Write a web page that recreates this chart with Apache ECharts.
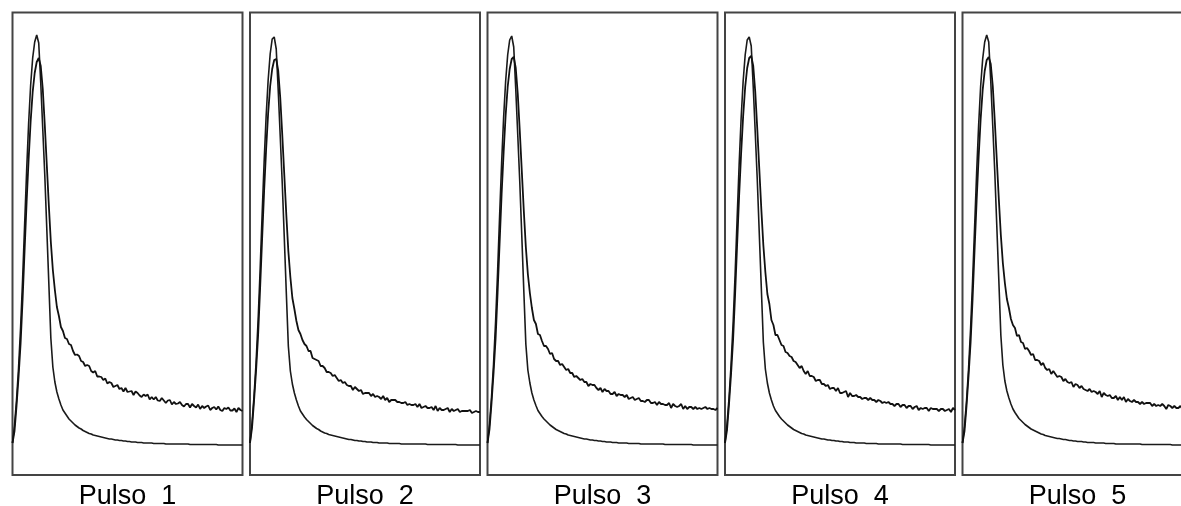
<!DOCTYPE html>
<html>
<head>
<meta charset="utf-8">
<script src="https://cdn.jsdelivr.net/npm/echarts@6/dist/echarts.min.js"></script>
<style>
  html, body { margin: 0; padding: 0; background: #fff; }
  #chart { width: 1181px; height: 506px; }
</style>
</head>
<body>
<div id="chart"></div>
<script>
// Sample times (ns) shared by every pulse record
const sampleTimes = [0,2,4,6,8,10,12,14,16,18,20,22,24,26,28,30,32,34,36,38,40,42,44,46,48,50,52,54,56,58,60,62,64,66,68,70,72,74,76,78,80,82,84,86,88,90,92,94,96,98,100,102,104,106,108,110,112,114,116,118,120,122,124,126,128,130,132,134,136,138,140,142,144,146,148,150,152,154,156,158,160,162,164,166,168,170,172,174,176,178,180,182,184,186,188,190,192,194,196,198,200,202,204,206,208,210,212,214,216,218,220,222,224,226,228];

const pulseLabels = ['Pulso  1', 'Pulso  2', 'Pulso  3', 'Pulso  4', 'Pulso  5'];

// Fast-decay (smooth) pulse, amplitude in arbitrary units
const fast1 = [0,18,43,75,115,163,218,272,320,358,385,401,408,400,360,314,268,214,160,105,76,61,51,44,38,33,30,27,24,22,20,18,16.5,15,14,12.5,11.5,10.5,9.5,9,8,7.5,7,6.5,6,5.5,5,4.5,4,4,3.5,3,3,2.5,2.5,2,2,1.5,1.5,1,1,1,0.5,0.5,0.5,0,0,0,0,0,-0.5,-0.5,-0.5,-0.5,-0.5,-0.5,-1,-1,-1,-1,-1,-1,-1,-1,-1,-1,-1,-1,-1.5,-1.5,-1.5,-1.5,-1.5,-1.5,-1.5,-1.5,-1.5,-1.5,-1.5,-1.5,-1.5,-1.5,-2,-2,-2,-2,-2,-2,-2,-2,-2,-2,-2,-2,-2];
const fast2 = [0,20,47,80,122,172,228,281,327,363,389,404,406,394,352,306,259,205,150,97,72,59,50,43,37,32,29,26,23.5,21.5,19.5,17.5,16,14.5,13.5,12,11,10,9.5,8.5,8,7.5,7,6.5,6,5.5,5,4.5,4,3.5,3.5,3,2.5,2.5,2,2,1.5,1.5,1,1,1,0.5,0.5,0.5,0,0,0,0,0,-0.5,-0.5,-0.5,-0.5,-0.5,-0.5,-1,-1,-1,-1,-1,-1,-1,-1,-1,-1,-1,-1,-1,-1.5,-1.5,-1.5,-1.5,-1.5,-1.5,-1.5,-1.5,-1.5,-1.5,-1.5,-1.5,-1.5,-1.5,-1.5,-2,-2,-2,-2,-2,-2,-2,-2,-2,-2,-2,-2];
const fast3 = [0,19,46,79,121,171,227,280,326,362,388,403,407,396,354,308,261,207,152,99,73,60,50,43,37.5,32.5,29.5,26.5,24,22,20,18,16.5,15,13.5,12.5,11.5,10.5,9.5,9,8,7.5,7,6.5,6,5.5,5,4.5,4,4,3.5,3,3,2.5,2.5,2,2,1.5,1.5,1,1,1,0.5,0.5,0.5,0,0,0,0,0,-0.5,-0.5,-0.5,-0.5,-0.5,-0.5,-1,-1,-1,-1,-1,-1,-1,-1,-1,-1,-1,-1,-1.5,-1.5,-1.5,-1.5,-1.5,-1.5,-1.5,-1.5,-1.5,-1.5,-1.5,-1.5,-1.5,-1.5,-2,-2,-2,-2,-2,-2,-2,-2,-2,-2,-2,-2,-2];
const fast4 = [0,19,45,78,119,168,224,278,325,362,388,403,406,397,356,310,263,209,155,101,74,60,50,43,37,32.5,29.5,26.5,24,22,20,18,16.5,15,13.5,12.5,11.5,10.5,9.5,9,8,7.5,7,6.5,6,5.5,5,4.5,4,4,3.5,3,3,2.5,2.5,2,2,1.5,1.5,1,1,1,0.5,0.5,0.5,0,0,0,0,0,-0.5,-0.5,-0.5,-0.5,-0.5,-0.5,-1,-1,-1,-1,-1,-1,-1,-1,-1,-1,-1,-1,-1.5,-1.5,-1.5,-1.5,-1.5,-1.5,-1.5,-1.5,-1.5,-1.5,-1.5,-1.5,-1.5,-1.5,-2,-2,-2,-2,-2,-2,-2,-2,-2,-2,-2,-2,-2];
const fast5 = [0,17,42,74,114,162,216,270,318,357,384,401,408,401,362,317,271,217,163,108,78,62,52,45,39,34,30.5,27.5,24.5,22.5,20.5,18.5,17,15.5,14,13,12,11,10,9,8.5,7.5,7,6.5,6,5.5,5,4.5,4.5,4,3.5,3.5,3,2.5,2.5,2,2,1.5,1.5,1.5,1,1,0.5,0.5,0.5,0.5,0,0,0,0,0,-0.5,-0.5,-0.5,-0.5,-0.5,-1,-1,-1,-1,-1,-1,-1,-1,-1,-1,-1,-1,-1,-1.5,-1.5,-1.5,-1.5,-1.5,-1.5,-1.5,-1.5,-1.5,-1.5,-1.5,-1.5,-1.5,-1.5,-1.5,-2,-2,-2,-2,-2,-2,-2,-2,-2,-2,-2,-2];

// Slow-decay (noisy) pulse, same units
const slow1 = [0,12,37,66,99,143,193,241,284,322,351,370,381,385,377,354,318,278,238,201,173,153,136,127,116,112,105,104,99,98,92,88,88.5,87,82,81,77,78,77,72,70.5,72,66.5,66.5,66,63,64.5,59.5,61,60,56,57,58,54,55,51.5,55,51,51.5,52,48,51.5,50,47.5,46,48.5,47,48.5,43.5,46,43.5,46,42.5,42,45,42.5,40,42.5,43,38.5,41,39,39.5,41,38,36.5,39,39,35.5,39,37,35.5,38.5,34,37,35,36.5,37.5,33,35,36,33.5,36.5,33,32,35,34,35.5,32.5,32.5,34.5,31,35,33,32];
const slow2 = [0,15,42,72,107,154,204,252,294,330,357,374,383,384,372,345,308,268,228,192,166,145,134,122,113,109,103,99,97,92,92,85,84,83,82,77,77,75,71,71,70,67,68,65,62,63,60,61,58,57,57,53,56,54,52,53,49,50,50,50,47,49,46,47,46,44,47,43,45,41,43,43,43,41,41,40,40,41,38,39,38,38,39,36,39,35,36,37,35,35,36,33,37,32,35,33,33,34,35,31,34,32,33,34,31,32,32,32,32,33,30,31,32,31,31];
const slow3 = [0,14,40,70,104,150,200,249,291,328,356,374,384,386,375,349,312,272,232,196,169,150,135,123,119,109,108,102,97,97,94,89,90,84,82,82,78,79,76,73,74,70,70,66,67,65,63,64,61,61,57,59,58,58,55,53,55,51,54,52,52,49,49,51,47,49,48,48,46,48,44,45,46,43,44,45,42,42,41,43,43,40,40,41,38,41,39,39,38,38,40,35,39,37,36,37,39,34,37,34,36,36,34,36,34,35,34,35,36,34,35,34,34,33,35];
const slow4 = [0,13,39,69,103,148,198,247,290,327,356,375,385,387,377,351,314,274,234,198,171,149,139,123,118,108,108,103,98,97,91,90,87,86,82,81,78,75,77,72,69,72,67,67,66,62,63,63,59,59,57,58,54,55,55,52,55,50,50,51,52,46,50,47,47,48,46,46,44,45,45,43,45,43,43,41,43,42,40,41,40,41,39,39,37,39,39,36,38,38,35,37,37,34,36,37,33,35,34,35,35,32,35,34,34,34,32,34,34,32,33,34,31,35,33];
const slow5 = [0,12,37,67,100,144,194,242,286,324,353,372,383,386,379,357,322,283,244,208,180,160,144,135,124,118,115,107,108,101,100,94,95,92,88,89,83,83,82,78,80,75,73,74,69,72,69,66,67,66,62,64,61,60,61,56,59,58,55,57,54,53,52,54,51,52,51,49,52,46,50,48,47,48,45,45,47,43,46,43,46,41,44,42,41,43,41,41,39,41,39,40,40,40,37,39,37,38,37,39,37,34,38,37,35,37,35,35,37,34,36,36,34,35,34];

const fastPulses = [fast1, fast2, fast3, fast4, fast5];
const slowPulses = [slow1, slow2, slow3, slow4, slow5];

// Panel layout (pixels)
const PANEL_LEFT0 = 12.5;
const PANEL_STEP = 237.5;
const PANEL_W = 230;
const PANEL_TOP = 12.5;
const PANEL_H = 462.5;

const grids = [], xAxes = [], yAxes = [], series = [];
for (let i = 0; i < pulseLabels.length; i++) {
  grids.push({
    left: PANEL_LEFT0 + PANEL_STEP * i,
    top: PANEL_TOP,
    width: PANEL_W,
    height: PANEL_H,
    containLabel: false,
    outerBoundsMode: 'none',
    show: true,
    borderColor: '#444',
    borderWidth: 2,
    backgroundColor: 'transparent'
  });
  xAxes.push({
    gridIndex: i,
    type: 'category',
    data: sampleTimes,
    boundaryGap: false,
    axisLine: { show: false },
    axisTick: { show: false },
    axisLabel: { show: false },
    splitLine: { show: false },
    name: pulseLabels[i],
    nameLocation: 'middle',
    nameGap: 8,
    nameTextStyle: {
      fontFamily: 'Liberation Sans, Arial, sans-serif',
      fontSize: 27,
      color: '#000',
      verticalAlign: 'top'
    }
  });
  yAxes.push({
    gridIndex: i,
    type: 'value',
    min: -32,
    max: 430.5,
    show: false,
    splitLine: { show: false }
  });
  series.push({
    type: 'line',
    xAxisIndex: i,
    yAxisIndex: i,
    data: fastPulses[i],
    showSymbol: false,
    symbol: 'none',
    lineStyle: { color: '#1a1a1a', width: 1.6 },
    silent: true
  });
  series.push({
    type: 'line',
    xAxisIndex: i,
    yAxisIndex: i,
    data: slowPulses[i],
    showSymbol: false,
    symbol: 'none',
    lineStyle: { color: '#111', width: 1.8 },
    silent: true
  });
}

const chart = echarts.init(document.getElementById('chart'), null, { renderer: 'canvas' });
chart.setOption({
  animation: false,
  backgroundColor: '#fff',
  grid: grids,
  xAxis: xAxes,
  yAxis: yAxes,
  series: series
});
</script>
</body>
</html>
